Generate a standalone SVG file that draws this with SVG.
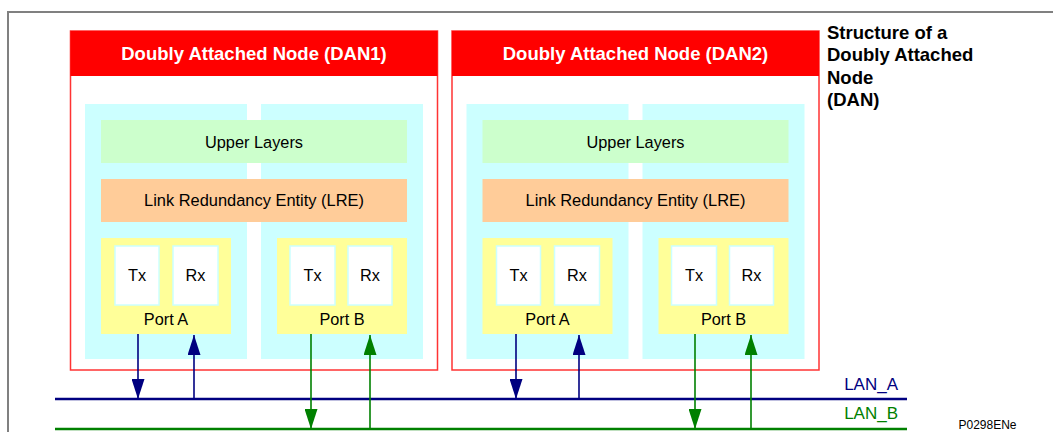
<svg xmlns="http://www.w3.org/2000/svg" width="1053" height="432" viewBox="0 0 1053 432">
  <style>
    .frame { fill: none; stroke: #808080; stroke-width: 2; }
    .dan { fill: #ffffff; stroke: #ff3333; stroke-width: 1.5; }
    .hdr { fill: #ff0000; }
    .hdrtxt { font-family: "Liberation Sans", Arial, sans-serif; font-weight: bold; font-size: 18.5px; fill: #ffffff; text-anchor: middle; }
    .panel { fill: #ccffff; }
    .upper { fill: #ccffcc; }
    .lre { fill: #ffcc99; }
    .port { fill: #ffff99; }
    .trx { fill: #ffffff; stroke: #ccffff; stroke-width: 1.5; }
    .t { font-family: "Liberation Sans", Arial, sans-serif; font-size: 16.3px; fill: #000000; text-anchor: middle; }
    .title { font-family: "Liberation Sans", Arial, sans-serif; font-weight: bold; font-size: 18.5px; fill: #000000; }
    .lanA { stroke: #000080; stroke-width: 2.5; fill: none; }
    .lanB { stroke: #008000; stroke-width: 2.5; fill: none; }
    .arrA { stroke: #000080; stroke-width: 1.6; fill: none; marker-end: url(#headA); }
    .arrB { stroke: #008000; stroke-width: 1.6; fill: none; marker-end: url(#headB); }
    .lantxt { font-family: "Liberation Sans", Arial, sans-serif; font-size: 17px; text-anchor: end; }
    .ref { font-family: "Liberation Sans", Arial, sans-serif; font-size: 12px; fill: #000000; }
  </style>
  <defs>
    <marker id="headA" markerUnits="userSpaceOnUse" markerWidth="20" markerHeight="13" refX="20" refY="6.5" orient="auto">
      <path d="M0,0 L20,6.5 L0,13 z" fill="#000080"/>
    </marker>
    <marker id="headB" markerUnits="userSpaceOnUse" markerWidth="20" markerHeight="13" refX="20" refY="6.5" orient="auto">
      <path d="M0,0 L20,6.5 L0,13 z" fill="#008000"/>
    </marker>
    <g id="danBody">
      <rect class="dan" x="70.5" y="31" width="367" height="339"/>
      <rect class="hdr" x="70.5" y="31" width="367" height="45"/>
      <rect class="panel" x="85" y="104" width="162" height="255"/>
      <rect class="panel" x="261" y="104" width="162" height="255"/>
      <rect class="upper" x="101" y="120" width="306" height="43"/>
      <text class="t" x="254" y="147.5" textLength="98" lengthAdjust="spacingAndGlyphs">Upper Layers</text>
      <rect class="lre" x="101" y="179" width="306" height="43"/>
      <text class="t" x="254" y="206" textLength="220" lengthAdjust="spacingAndGlyphs">Link Redundancy Entity (LRE)</text>
      <rect class="port" x="101" y="238" width="130" height="96"/>
      <rect class="trx" x="115" y="246" width="44" height="59"/>
      <text class="t" x="137" y="281">Tx</text>
      <rect class="trx" x="173" y="246" width="45" height="59"/>
      <text class="t" x="195.5" y="281">Rx</text>
      <text class="t" x="166" y="325">Port A</text>
      <rect class="port" x="277" y="238" width="130" height="96"/>
      <rect class="trx" x="290" y="246" width="45" height="59"/>
      <text class="t" x="312.5" y="281">Tx</text>
      <rect class="trx" x="348" y="246" width="44" height="59"/>
      <text class="t" x="370" y="281">Rx</text>
      <text class="t" x="342" y="325">Port B</text>
    </g>
  </defs>

  <g id="frame">
    <path class="frame" d="M8,432 L8,12 L1053,12"/>
  </g>

  <g id="dan1">
    <use href="#danBody"/>
    <text class="hdrtxt" x="254" y="59.5">Doubly Attached Node (DAN1)</text>
  </g>

  <g id="dan2" transform="translate(381.5,0)">
    <use href="#danBody"/>
    <text class="hdrtxt" x="254" y="59.5">Doubly Attached Node (DAN2)</text>
  </g>

  <g id="title">
    <text class="title" x="827" y="38.5">Structure of a</text>
    <text class="title" x="827" y="61">Doubly Attached</text>
    <text class="title" x="827" y="83.5">Node</text>
    <text class="title" x="827" y="106">(DAN)</text>
  </g>

  <g id="lanA">
    <line class="lanA" x1="55" y1="399" x2="907" y2="399"/>
    <text class="lantxt" x="898" y="390" fill="#000080">LAN_A</text>
  </g>
  <g id="lanB">
    <line class="lanB" x1="55" y1="429" x2="907" y2="429"/>
    <text class="lantxt" x="898" y="419" fill="#008000">LAN_B</text>
  </g>

  <g id="connectors">
    <line class="arrA" x1="138" y1="334" x2="138" y2="399"/>
    <line class="arrA" x1="194" y1="399" x2="194" y2="335"/>
    <line class="arrB" x1="311" y1="334" x2="311" y2="429"/>
    <line class="arrB" x1="370" y1="429" x2="370" y2="335"/>
    <line class="arrA" x1="516" y1="334" x2="516" y2="399"/>
    <line class="arrA" x1="579" y1="399" x2="579" y2="335"/>
    <line class="arrB" x1="695" y1="334" x2="695" y2="429"/>
    <line class="arrB" x1="751" y1="429" x2="751" y2="335"/>
  </g>

  <text class="ref" x="958.5" y="428.5">P0298ENe</text>
</svg>
